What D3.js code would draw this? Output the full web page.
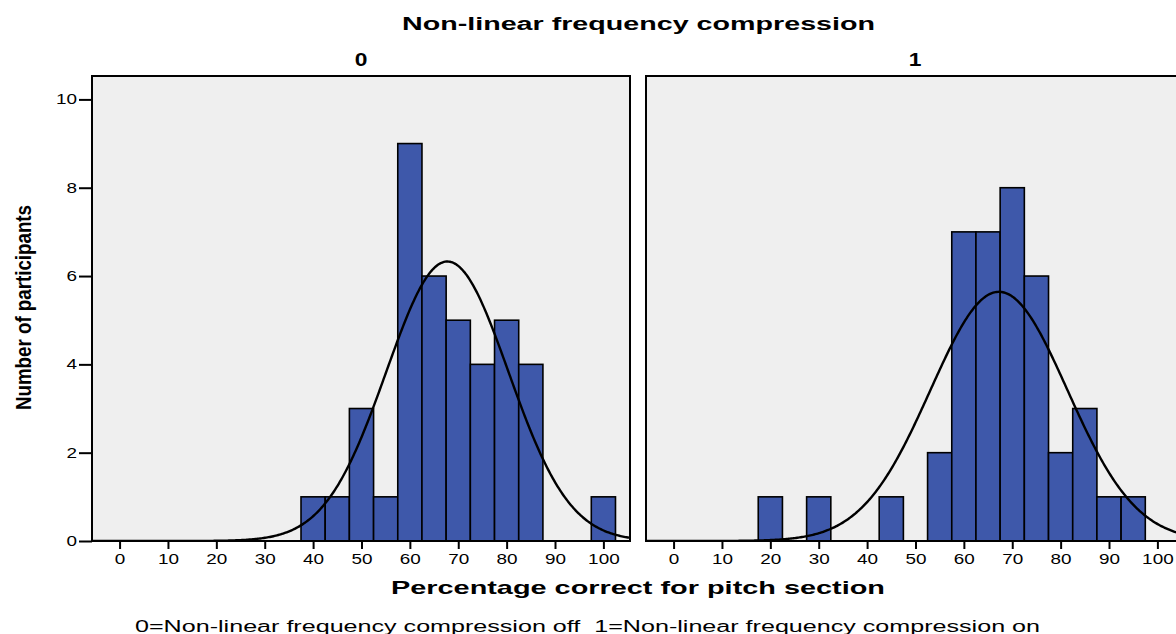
<!DOCTYPE html>
<html>
<head>
<meta charset="utf-8">
<script src="https://cdn.jsdelivr.net/npm/d3@7/dist/d3.min.js"></script>
<style>
  html, body { margin: 0; padding: 0; background: #ffffff; }
  svg { display: block; }
  text { font-family: "Liberation Sans", Arial, sans-serif; fill: #000; }
</style>
</head>
<body>
<svg id="chart" width="1176" height="634"></svg>
<script>
// Histogram bins (centre of each 5-point bin) and participant counts per group
const binWidth = 5;
const group0Bins   = [40, 45, 50, 55, 60, 65, 70, 75, 80, 85, 100];
const group0Counts = [ 1,  1,  3,  1,  9,  6,  5,  4,  5,  4,   1];
const group1Bins   = [20, 30, 45, 55, 60, 65, 70, 75, 80, 85, 90, 95];
const group1Counts = [ 1,  1,  1,  2,  7,  7,  8,  6,  2,  3,  1,  1];

const panelLabels = ["0", "1"];
const xTickValues = [0, 10, 20, 30, 40, 50, 60, 70, 80, 90, 100];
const yTickValues = [0, 2, 4, 6, 8, 10];

const titleText   = "Non-linear frequency compression";
const xLabelText  = "Percentage correct for pitch section";
const yLabelText  = "Number of participants";
const captionText = "0=Non-linear frequency compression off  1=Non-linear frequency compression on";

const groups = [
  { label: panelLabels[0], bins: group0Bins, counts: group0Counts },
  { label: panelLabels[1], bins: group1Bins, counts: group1Counts }
];

// Layout
const svg = d3.select("#chart");
const panelTop = 76, panelBottom = 541, panelWidth = 538;
const panelLefts = [92, 646];
const xDomain = [-5.7, 105.5];
const yDomain = [0, 10.53];
const barFill = "#3e58aa";
const plotBg = "#efefef";
const labelStretch = 1.35;

const y = d3.scaleLinear().domain(yDomain).range([panelBottom, panelTop]);

// Normal curve fitted to a binned group, scaled to counts per bin
function normalCurve(bins, counts, x0, x1) {
  const n = d3.sum(counts);
  const mean = d3.sum(bins, (b, i) => b * counts[i]) / n;
  const variance = d3.sum(bins, (b, i) => counts[i] * (b - mean) ** 2) / (n - 1);
  const sd = Math.sqrt(variance);
  const scale = n * binWidth / (sd * Math.sqrt(2 * Math.PI));
  const xs = d3.range(x0, x1 + 0.25, 0.25);
  return xs.map(v => [v, scale * Math.exp(-0.5 * ((v - mean) / sd) ** 2)]);
}

groups.forEach((g, gi) => {
  const left = panelLefts[gi];
  const x = d3.scaleLinear().domain(xDomain).range([left, left + panelWidth]);
  const panel = svg.append("g");

  const clipId = "clip" + gi;
  svg.append("defs").append("clipPath").attr("id", clipId)
    .append("rect")
    .attr("x", left).attr("y", panelTop)
    .attr("width", panelWidth).attr("height", panelBottom - panelTop);

  // plot background
  panel.append("rect")
    .attr("x", left).attr("y", panelTop)
    .attr("width", panelWidth).attr("height", panelBottom - panelTop)
    .attr("fill", plotBg);

  const inner = panel.append("g").attr("clip-path", `url(#${clipId})`);

  // bars
  inner.selectAll("rect.bar")
    .data(g.bins.map((b, i) => ({ b, c: g.counts[i] })))
    .join("rect")
    .attr("class", "bar")
    .attr("x", d => x(d.b - binWidth / 2))
    .attr("width", d => x(d.b + binWidth / 2) - x(d.b - binWidth / 2))
    .attr("y", d => y(d.c))
    .attr("height", d => y(0) - y(d.c))
    .attr("fill", barFill)
    .attr("stroke", "#000")
    .attr("stroke-width", 1.6);

  // fitted normal curve
  const line = d3.line().x(d => x(d[0])).y(d => y(d[1])).curve(d3.curveLinear);
  inner.append("path")
    .datum(normalCurve(g.bins, g.counts, xDomain[0], xDomain[1]))
    .attr("d", line)
    .attr("fill", "none")
    .attr("stroke", "#000")
    .attr("stroke-width", 2.4);

  // frame
  panel.append("rect")
    .attr("x", left).attr("y", panelTop)
    .attr("width", panelWidth).attr("height", panelBottom - panelTop)
    .attr("fill", "none")
    .attr("stroke", "#000")
    .attr("stroke-width", 2);

  // bottom axis
  const xAxis = panel.append("g")
    .attr("transform", `translate(0,${panelBottom})`)
    .call(d3.axisBottom(x).tickValues(xTickValues).tickSize(8).tickSizeOuter(0).tickPadding(5));
  xAxis.select(".domain").remove();
  xAxis.selectAll(".tick line").attr("stroke", "#000").attr("stroke-width", 2);
  xAxis.selectAll(".tick text")
    .attr("font-size", 14)
    .attr("font-family", "Liberation Sans, Arial, sans-serif")
    .attr("fill", "#000")
    .attr("transform", `scale(${labelStretch},1)`);

  // panel header
  svg.append("text")
    .attr("transform", `translate(${left + panelWidth / 2},66) scale(1.2,1)`)
    .attr("text-anchor", "middle")
    .attr("font-size", 19).attr("font-weight", "bold")
    .text(g.label);

  // left axis only on the first panel
  if (gi === 0) {
    const yAxis = panel.append("g")
      .attr("transform", `translate(${left},0)`)
      .call(d3.axisLeft(y).tickValues(yTickValues).tickSize(13).tickSizeOuter(0).tickPadding(2));
    yAxis.select(".domain").remove();
    yAxis.selectAll(".tick line").attr("stroke", "#000").attr("stroke-width", 2);
    yAxis.selectAll(".tick text")
      .attr("font-size", 14)
      .attr("font-family", "Liberation Sans, Arial, sans-serif")
      .attr("fill", "#000")
      .attr("x", -15 / labelStretch)
      .attr("transform", `scale(${labelStretch},1)`);
  }
});

// titles and labels
svg.append("text")
  .attr("x", 402).attr("y", 30)
  .attr("font-size", 18).attr("font-weight", "bold")
  .attr("textLength", 473).attr("lengthAdjust", "spacingAndGlyphs")
  .text(titleText);

svg.append("text")
  .attr("x", 391).attr("y", 594)
  .attr("font-size", 19).attr("font-weight", "bold")
  .attr("textLength", 494).attr("lengthAdjust", "spacingAndGlyphs")
  .text(xLabelText);

svg.append("text")
  .attr("transform", "translate(31,410) rotate(-90)")
  .attr("font-size", 22).attr("font-weight", "bold")
  .attr("textLength", 205).attr("lengthAdjust", "spacingAndGlyphs")
  .text(yLabelText);

svg.append("text")
  .attr("x", 135).attr("y", 632)
  .attr("font-size", 16)
  .style("white-space", "pre")
  .attr("textLength", 905).attr("lengthAdjust", "spacingAndGlyphs")
  .text(captionText);
</script>
</body>
</html>
